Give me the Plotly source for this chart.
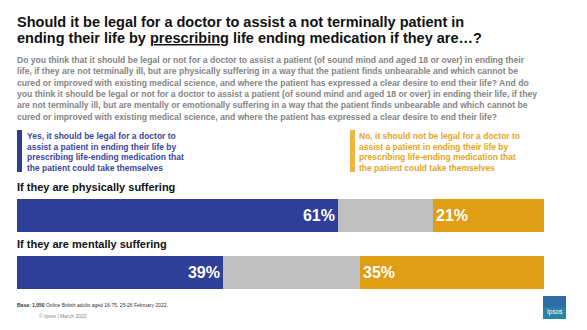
import plotly.graph_objects as go

# Survey results (share of respondents, %)
categories = ["If they are physically suffering", "If they are mentally suffering"]
yes_legal = [61, 39]
dont_know = [18, 26]
not_legal = [21, 35]

title_lines = [
    "Should it be legal for a doctor to assist a not terminally patient in",
    "ending their life by <u>prescribing</u> life ending medication if they are…?",
]
question_lines = [
    "Do you think that it should be legal or not for a doctor to assist a patient (of sound mind and aged 18 or over) in ending their",
    "life, if they are not terminally ill, but are physically suffering in a way that the patient finds unbearable and which cannot be",
    "cured or improved with existing medical science, and where the patient has expressed a clear desire to end their life? And do",
    "you think it should be legal or not for a doctor to assist a patient (of sound mind and aged 18 or over) in ending their life, if they",
    "are not terminally ill, but are mentally or emotionally suffering in a way that the patient finds unbearable and which cannot be",
    "cured or improved with existing medical science, and where the patient has expressed a clear desire to end their life?",
]
yes_label = [
    "Yes, it should be legal for a doctor to",
    "assist a patient in ending their life by",
    "prescribing life-ending medication that",
    "the patient could take themselves",
]
no_label = [
    "No, it should not be legal for a doctor to",
    "assist a patient in ending their life by",
    "prescribing life-ending medication that",
    "the patient could take themselves",
]
base_note = "<b>Base:</b> <b>1,050</b> Online British adults aged 16-75, 25-26 February 2022."
footer = "© Ipsos | March 2022"

BLUE = "#2E3F97"
GREY = "#BFBFBF"
GOLD = "#E09E15"
FONT = "Liberation Sans, Arial, sans-serif"

W, H = 587, 330


def px(x, y):
    return x / W, 1 - y / H


fig = go.Figure()
ypos = list(range(len(categories)))

fig.add_trace(go.Bar(
    y=ypos, x=yes_legal, orientation="h", marker=dict(color=BLUE, line_width=0),
    text=[f"{v}%" for v in yes_legal], textposition="inside", insidetextanchor="end",
    textfont=dict(color="white", size=16, family=FONT), texttemplate="<b>%{text}</b>",
    width=0.58, hoverinfo="skip",
))
fig.add_trace(go.Bar(
    y=ypos, x=dont_know, orientation="h", marker=dict(color=GREY, line_width=0),
    width=0.58, hoverinfo="skip",
))
fig.add_trace(go.Bar(
    y=ypos, x=not_legal, orientation="h", marker=dict(color=GOLD, line_width=0),
    text=[f"{v}%" for v in not_legal], textposition="inside", insidetextanchor="start",
    textfont=dict(color="white", size=16, family=FONT), texttemplate="<b>%{text}</b>",
    width=0.58, hoverinfo="skip",
))

annotations = []


def add_text(x, y, text, size, color, bold=True, xanchor="left"):
    ax, ay = px(x, y)
    annotations.append(dict(
        x=ax, y=ay, xref="paper", yref="paper", xanchor=xanchor, yanchor="middle",
        text=f"<b>{text}</b>" if bold else text, showarrow=False,
        font=dict(size=size, color=color, family=FONT),
    ))


# Title
for i, line in enumerate(title_lines):
    add_text(15, 22 + i * 16, line, 14.5, "#111111")

# Question wording
for i, line in enumerate(question_lines):
    add_text(15, 60 + i * 11.3, line, 8.6, "#858585")

# Legend blocks
for i, line in enumerate(yes_label):
    add_text(25, 136 + i * 10.5, line, 8.5, "#3B479A")
for i, line in enumerate(no_label):
    add_text(357, 136 + i * 10.5, line, 8.5, "#E3A526")

# Row labels above each bar
for cat, y in zip(categories, [187, 244]):
    add_text(15, y, cat, 11, "#111111")

# Footnotes
add_text(15, 305, base_note, 5, "#333333", bold=False)
add_text(37, 316, footer, 5, "#888888", bold=False)

# Logo badge
lx0, ly0 = px(543, 319)
lx1, ly1 = px(566, 296)
lmx, lmy = px(554.5, 312)
annotations.append(dict(
    x=lmx, y=lmy, xref="paper", yref="paper", text="Ipsos", showarrow=False,
    font=dict(size=6.5, color="white", family=FONT), xanchor="center", yanchor="middle",
))

shapes = [
    dict(type="rect", xref="paper", yref="paper", x0=px(17, 0)[0], x1=px(22, 0)[0],
         y0=px(0, 172)[1], y1=px(0, 130)[1], fillcolor="#2E3F97", line_width=0),
    dict(type="rect", xref="paper", yref="paper", x0=px(350, 0)[0], x1=px(355, 0)[0],
         y0=px(0, 172)[1], y1=px(0, 130)[1], fillcolor="#F0B440", line_width=0),
    dict(type="rect", xref="paper", yref="paper", x0=lx0, x1=lx1, y0=ly0, y1=ly1,
         fillcolor="#2F6BA6", line_width=0),
    dict(type="rect", xref="paper", yref="paper", x0=lx0, x1=lx1, y0=ly0, y1=(ly0 + ly1) / 2,
         fillcolor="#1E9AA8", line_width=0, opacity=0.55),
]

fig.update_layout(
    width=W, height=H, margin=dict(l=0, r=0, t=0, b=0),
    paper_bgcolor="white", plot_bgcolor="white",
    barmode="stack", bargap=0, showlegend=False,
    xaxis=dict(domain=[17 / W, 544 / W], range=[0, 100], visible=False, fixedrange=True),
    yaxis=dict(domain=[1 - 289 / H, 1 - 199 / H], range=[1.29, -0.29], visible=False, fixedrange=True),
    annotations=annotations, shapes=shapes,
    uniformtext=dict(mode="show", minsize=8),
)

fig.write_html("out.html", config={"displayModeBar": False})
